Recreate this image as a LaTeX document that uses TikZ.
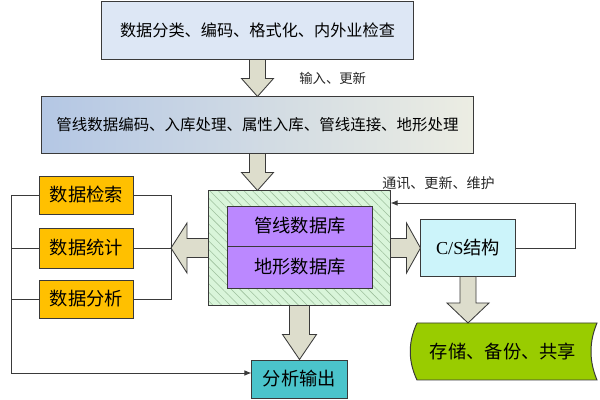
\documentclass[tikz,border=0pt]{standalone}
\usepackage{fontspec}
\newfontfamily\cjk{Noto Sans CJK SC}
\newfontfamily\lat{Liberation Serif}
\usetikzlibrary{calc,arrows.meta,patterns.meta}
\definecolor{topfill}{HTML}{DDE7F5}
\definecolor{midL}{HTML}{B4C7E4}
\definecolor{midR}{HTML}{ECEDE3}
\definecolor{purp}{HTML}{BB88FF}
\definecolor{yel}{HTML}{FFC000}
\definecolor{teal}{HTML}{4BC4CB}
\definecolor{csfill}{HTML}{CCF4FA}
\definecolor{grn}{HTML}{99CC00}
\definecolor{hatchbg}{HTML}{D9F5DA}
\definecolor{hatchln}{HTML}{9DC09D}
\definecolor{barfill}{HTML}{DDDDCC}
\definecolor{edge}{HTML}{3A3A3A}
\tikzset{
  box/.style={draw=edge, line width=0.7pt, inner sep=0pt, font=\cjk\fontsize{13}{13}\selectfont},
  barrow/.style={draw=edge, line width=0.6pt, fill=barfill, line join=miter},
  wire/.style={draw=edge, line width=0.7pt},
  lbl/.style={font=\cjk\fontsize{9.5}{9.5}\selectfont, text=black!85, inner sep=0pt},
}
\begin{document}
\begin{tikzpicture}[x=0.025cm,y=-0.025cm]
\useasboundingbox (0,0) rectangle (600,400);
% boxes
\node[box, fill=topfill, minimum width=7.775cm, minimum height=1.425cm, font=\cjk\fontsize{11.5}{11.5}\selectfont] (top) at (257.5,30.5) {数据分类、编码、格式化、内外业检查};
\node[box, left color=midL, right color=midR, minimum width=10.775cm, minimum height=1.4cm, font=\cjk\fontsize{11}{11}\selectfont] (mid) at (257.5,125) {管线数据编码、入库处理、属性入库、管线连接、地形处理};
\node[box, fill=hatchbg, minimum width=4.525cm, minimum height=2.85cm] (db) at (299.5,248) {};
\fill[pattern={Lines[angle=135,distance=4.3pt,line width=0.4pt]}, pattern color=hatchln] (db.south west) rectangle (db.north east);
\draw[draw=edge, line width=0.7pt] (db.south west) rectangle (db.north east);
\node[box, fill=purp, minimum width=3.6cm, minimum height=1.0cm] (pipe) at (300,226) {管线数据库};
\node[box, fill=purp, minimum width=3.6cm, minimum height=1.05cm] (terr) at (300,267) {地形数据库};
\node[box, fill=yel, minimum width=2.325cm, minimum height=0.95cm] (y1) at (86.5,195) {数据检索};
\node[box, fill=yel, minimum width=2.325cm, minimum height=1.0cm] (y2) at (86.5,248) {数据统计};
\node[box, fill=yel, minimum width=2.325cm, minimum height=0.95cm] (y3) at (86.5,299) {数据分析};
\node[box, fill=teal, minimum width=2.375cm, minimum height=0.95cm] (out) at (299.5,379) {分析输出};
\node[box, fill=csfill, minimum width=2.35cm, minimum height=1.4cm] (cs) at (468,248) {{\lat C/S}结构};
% storage shape
\draw[draw=edge, line width=0.7pt, fill=grn] (417,323) -- (597,323) .. controls (589,342) and (589,361) .. (597,380) -- (417,380) .. controls (408,361) and (408,342) .. (417,323);
\node[font=\cjk\fontsize{13}{13}\selectfont, inner sep=0pt] (store) at (503,351.5) {存储、备份、共享};
\coordinate (storetop) at (468,323);
% block arrows down
\draw[barrow] ($(top.south)+(-8,0)$) -- ($(top.south)+(8,0)$) -- ($(mid.north)+(8,-18)$) -- ($(mid.north)+(16,-18)$) -- (mid.north) -- ($(mid.north)+(-16,-18)$) -- ($(mid.north)+(-8,-18)$) -- cycle;
\draw[barrow] ($(mid.south)+(-8,0)$) -- ($(mid.south)+(8,0)$) -- ($(db.north -| mid.south)+(8,-18)$) -- ($(db.north -| mid.south)+(16,-18)$) -- (db.north -| mid.south) -- ($(db.north -| mid.south)+(-16,-18)$) -- ($(db.north -| mid.south)+(-8,-18)$) -- cycle;
\draw[barrow] ($(db.south)+(-10,0)$) -- ($(db.south)+(10,0)$) -- ($(out.north)+(10,-25)$) -- ($(out.north)+(17,-25)$) -- (out.north) -- ($(out.north)+(-17,-25)$) -- ($(out.north)+(-10,-25)$) -- cycle;
\draw[barrow] ($(cs.south)+(-8,0)$) -- ($(cs.south)+(8,0)$) -- ($(storetop)+(8,-20)$) -- ($(storetop)+(21,-20)$) -- (storetop) -- ($(storetop)+(-21,-20)$) -- ($(storetop)+(-8,-20)$) -- cycle;
% block arrows sideways
\coordinate (lj) at (171,248);
\draw[barrow] ($(db.west)+(0,-9.5)$) -- ($(db.west)+(0,9.5)$) -- ($(lj)+(16,9.5)$) -- ($(lj)+(16,25)$) -- (lj) -- ($(lj)+(16,-25)$) -- ($(lj)+(16,-9.5)$) -- cycle;
\draw[barrow] ($(db.east)+(0,-9.5)$) -- ($(db.east)+(0,9.5)$) -- ($(cs.west)+(-14,9.5)$) -- ($(cs.west)+(-14,25)$) -- (cs.west) -- ($(cs.west)+(-14,-25)$) -- ($(cs.west)+(-14,-9.5)$) -- cycle;
% wires
\draw[wire] (y1.east) -- (y1.east -| lj) -- (y3.east -| lj) -- (y3.east);
\draw[wire] (y2.east) -- (lj);
\coordinate (lb) at (11,195);
\draw[wire] (y1.west) -- (lb);
\draw[wire] (y2.west) -- (y2.west -| lb);
\draw[wire] (y3.west) -- (y3.west -| lb);
\draw[wire, -{Latex[length=5pt,width=4pt]}] (lb) -- ($(lb |- out.west)+(0,-6)$) -- ($(out.west)+(0,-6)$);
\draw[wire, -{Latex[length=5pt,width=4pt]}] (cs.east) -- ++(60,0) |- ($(db.east)+(0,-45)$);
% labels
\node[lbl, anchor=west] (l1) at (299,78) {输入、更新};
\node[lbl, anchor=west, font=\cjk\fontsize{10}{10}\selectfont] (l2) at (382,183) {通讯、更新、维护};
\end{tikzpicture}
\end{document}
